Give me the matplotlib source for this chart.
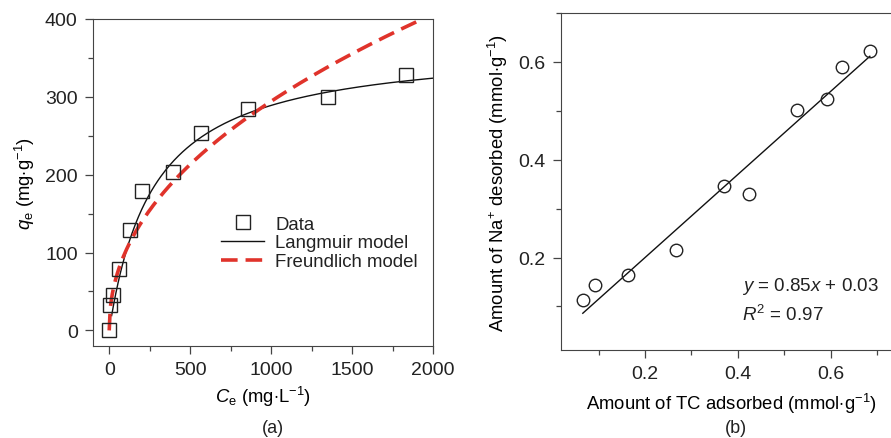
import numpy as np
import matplotlib
matplotlib.use("Agg")
import matplotlib.pyplot as plt
from matplotlib.ticker import MultipleLocator

plt.rcParams['font.family'] = ['Liberation Sans', 'DejaVu Sans']
plt.rcParams['mathtext.fontset'] = 'custom'
plt.rcParams['mathtext.rm'] = 'Liberation Sans'
plt.rcParams['mathtext.it'] = 'Liberation Sans:italic'
plt.rcParams['text.color'] = '#222222'
plt.rcParams['axes.edgecolor'] = '#444444'
plt.rcParams['xtick.color'] = '#444444'
plt.rcParams['ytick.color'] = '#444444'
plt.rcParams['xtick.labelcolor'] = '#222222'
plt.rcParams['ytick.labelcolor'] = '#222222'

# === Data (a): isotherm ===
ce = [0, 4, 25, 60, 130, 205, 395, 570, 855, 1350, 1833]
qe = [0, 33, 45, 79, 129, 179, 204, 253, 285, 300, 328]
# fitted model parameters
qm, kl = 368.6, 0.00363          # Langmuir
kf, inv_n = 11.85, 0.465         # Freundlich

# === Data (b): Na+ desorbed vs TC adsorbed ===
tc_ads = [0.066, 0.092, 0.163, 0.267, 0.371, 0.423, 0.527, 0.591, 0.624, 0.684]
na_des = [0.114, 0.144, 0.165, 0.216, 0.346, 0.329, 0.502, 0.525, 0.590, 0.622]
slope, intercept = 0.85, 0.03

fig = plt.figure(figsize=(8.91, 4.39), dpi=100)

# ---------- panel (a) ----------
ax1 = fig.add_axes([0.1044, 0.2096, 0.3816, 0.7449])
c_l = np.linspace(15, 2000, 300)
c_f = np.linspace(0, 1900, 300)
ax1.plot(ce, qe, 's', ms=9.5, mfc='none', mec='#222222', mew=1.0, label='Data', zorder=3)
ax1.plot(c_l, qm * kl * c_l / (1 + kl * c_l), '-', color='#111111', lw=1.0, label='Langmuir model')
ax1.plot(c_f, kf * c_f ** inv_n, '--', color='#e0332b', lw=2.6, dashes=(4.6, 2.2), label='Freundlich model')
ax1.set_xlim(-100, 2000)
ax1.set_ylim(-20, 400)
ax1.xaxis.set_major_locator(MultipleLocator(500))
ax1.xaxis.set_minor_locator(MultipleLocator(250))
ax1.yaxis.set_major_locator(MultipleLocator(100))
ax1.yaxis.set_minor_locator(MultipleLocator(50))
ax1.tick_params(which='major', direction='out', length=6, width=0.9, labelsize=14, pad=5)
ax1.tick_params(which='minor', direction='out', length=3.5, width=0.9)
ax1.set_xlabel('$C_\\mathrm{e}$ (mg$\\cdot$L$^{-1}$)', fontsize=13.3, labelpad=4)
ax1.set_ylabel('$q_\\mathrm{e}$ (mg$\\cdot$g$^{-1}$)', fontsize=13.3, labelpad=6)
ax1.legend(loc='center left', bbox_to_anchor=(0.35, 0.315), frameon=False, fontsize=13.4,
           handlelength=2.3, handletextpad=0.6, labelspacing=0.1, borderpad=0)
fig.text(0.306, 0.005, '(a)', fontsize=13, ha='center', va='bottom')

# ---------- panel (b) ----------
ax2 = fig.add_axes([0.6296, 0.2005, 0.3816, 0.7677])
xfit = np.array([tc_ads[0], tc_ads[-1]])
ax2.plot(tc_ads, na_des, 'o', ms=9, mfc='none', mec='#222222', mew=1.0, zorder=3)
ax2.plot(xfit, slope * xfit + intercept, '-', color='#111111', lw=1.0)
ax2.set_xlim(0.019, 0.751)
ax2.set_ylim(0.011, 0.7)
ax2.xaxis.set_major_locator(MultipleLocator(0.2))
ax2.xaxis.set_minor_locator(MultipleLocator(0.1))
ax2.yaxis.set_major_locator(MultipleLocator(0.2))
ax2.yaxis.set_minor_locator(MultipleLocator(0.1))
ax2.tick_params(which='major', direction='out', length=6, width=0.9, labelsize=14, pad=5)
ax2.tick_params(which='minor', direction='out', length=3.5, width=0.9)
ax2.set_xlabel('Amount of TC adsorbed (mmol$\\cdot$g$^{-1}$)', fontsize=13.3, labelpad=6)
ax2.set_ylabel('Amount of Na$^{+}$ desorbed (mmol$\\cdot$g$^{-1}$)', fontsize=13.3, labelpad=6)
ax2.text(0.532, 0.19, '$y$ = %.2f$x$ + %.2f' % (slope, intercept), transform=ax2.transAxes,
         fontsize=13.5, va='center')
ax2.text(0.532, 0.107, '$R^{2}$ = 0.97', transform=ax2.transAxes, fontsize=13.5, va='center')
fig.text(0.826, 0.005, '(b)', fontsize=13, ha='center', va='bottom')

fig.savefig('out.png', dpi=100)
